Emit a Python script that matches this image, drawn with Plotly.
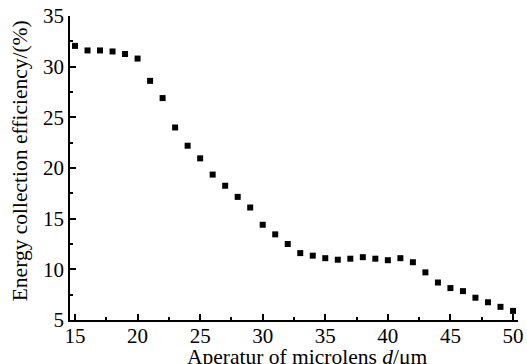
import plotly.graph_objects as go

aperture = list(range(15, 51))
efficiency = [32.05, 31.6, 31.6, 31.5, 31.25, 30.8, 28.6, 26.9, 24.0, 22.2,
              20.95, 19.35, 18.25, 17.15, 16.1, 14.4, 13.45, 12.5, 11.6, 11.35,
              11.1, 10.95, 11.05, 11.2, 11.05, 10.9, 11.1, 10.7, 9.7, 8.7,
              8.15, 7.85, 7.2, 6.75, 6.3, 5.9]
x_ticks = [15, 20, 25, 30, 35, 40, 45, 50]
y_ticks = [5, 10, 15, 20, 25, 30, 35]

font_family = "'Times New Roman', 'Liberation Serif', 'DejaVu Serif', serif"

fig = go.Figure()
fig.add_trace(go.Scatter(
    x=aperture, y=efficiency, mode="markers",
    marker=dict(symbol="square", size=6, color="black", line=dict(width=0)),
    showlegend=False,
))

axis_common = dict(
    showline=True, linecolor="black", linewidth=1.5, mirror=False,
    showgrid=False, zeroline=False,
    ticks="inside", ticklen=6, tickwidth=1.5, tickcolor="black",
    tickfont=dict(family=font_family, size=21, color="black"),
    ticklabeloverflow="allow",
    minor=dict(ticks="inside", ticklen=3, tickwidth=1.5, tickcolor="black"),
)

fig.update_xaxes(range=[14.6, 50.4], tickvals=x_ticks, ticklabelstandoff=-4,
                 minor_dtick=2.5, minor_tick0=15, **axis_common)
fig.update_yaxes(range=[5, 35], tickvals=y_ticks,
                 minor_dtick=2.5, minor_tick0=5, **axis_common)

fig.add_annotation(text="Energy collection efficiency/(%)", xref="paper", yref="paper",
                   x=-0.111, y=0.523, textangle=-90, showarrow=False,
                   xanchor="center", yanchor="middle",
                   font=dict(family=font_family, size=21.5, color="black"))
fig.add_annotation(text="Aperatur of microlens <i>d</i>/μm", xref="paper", yref="paper",
                   x=0.529, y=-0.122, showarrow=False, xanchor="center", yanchor="middle",
                   font=dict(family=font_family, size=21.5, color="black"))

fig.update_layout(
    width=527, height=364,
    margin=dict(l=70, r=4, t=16, b=44),
    paper_bgcolor="white", plot_bgcolor="white",
    font=dict(family=font_family, color="black"),
)

fig.write_html("out.html")
